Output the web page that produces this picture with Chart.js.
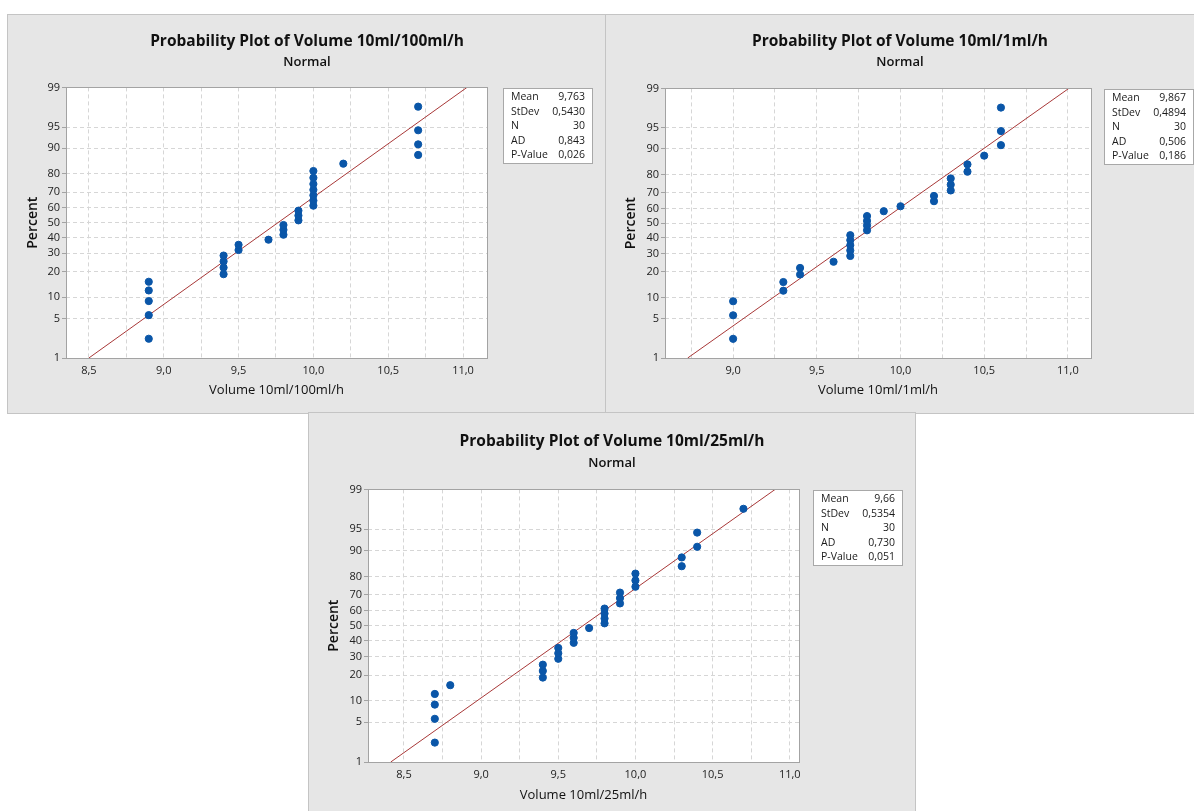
<!DOCTYPE html>
<html>
<head>
<meta charset="utf-8">
<title>Probability Plots</title>
<script src="https://cdn.jsdelivr.net/npm/chart.js@4.4.1/dist/chart.umd.min.js"></script>
<style>
    html, body { margin: 0; padding: 0; background: #fff; }
    body { width: 1194px; height: 811px; position: relative; overflow: hidden; }
    .panel { position: absolute; background: #e6e6e6; outline: 1px solid #c4c4c4; }
    .panel canvas { position: absolute; left: 0; top: 0; }
</style>
</head>
<body>
<div class="panel" style="left:8px;top:15px;width:598px;height:398px"><canvas id="chart-100" width="598" height="398"></canvas></div>
<div class="panel" style="left:606px;top:15px;width:588px;height:398px"><canvas id="chart-1" width="588" height="398"></canvas></div>
<div class="panel" style="left:309px;top:413px;width:606px;height:398px"><canvas id="chart-25" width="606" height="398"></canvas></div>
<script>
// ---- data ----
// plotting positions (percent) of the 30 ordered observations
const percents = [2.3, 5.6, 8.9, 12.2, 15.5, 18.8, 22.0, 25.3, 28.6, 31.9,
                  35.2, 38.5, 41.8, 45.1, 48.4, 51.6, 54.9, 58.2, 61.5, 64.8,
                  68.1, 71.4, 74.7, 78.0, 81.3, 84.5, 87.8, 91.1, 94.4, 97.7];

const volume100 = [8.9, 8.9, 8.9, 8.9, 8.9, 9.4, 9.4, 9.4, 9.4, 9.5,
                   9.5, 9.7, 9.8, 9.8, 9.8, 9.9, 9.9, 9.9, 10.0, 10.0,
                   10.0, 10.0, 10.0, 10.0, 10.0, 10.2, 10.7, 10.7, 10.7, 10.7];
const volume1 = [9.0, 9.0, 9.0, 9.3, 9.3, 9.4, 9.4, 9.6, 9.7, 9.7,
                 9.7, 9.7, 9.7, 9.8, 9.8, 9.8, 9.8, 9.9, 10.0, 10.2,
                 10.2, 10.3, 10.3, 10.3, 10.4, 10.4, 10.5, 10.6, 10.6, 10.6];
const volume25 = [8.7, 8.7, 8.7, 8.7, 8.8, 9.4, 9.4, 9.4, 9.5, 9.5,
                  9.5, 9.6, 9.6, 9.6, 9.7, 9.8, 9.8, 9.8, 9.8, 9.9,
                  9.9, 9.9, 10.0, 10.0, 10.0, 10.3, 10.3, 10.4, 10.4, 10.7];

// fitted normal parameters
const fit100 = { mean: 9.763, sd: 0.5430 };
const fit1 = { mean: 9.867, sd: 0.4894 };
const fit25 = { mean: 9.66, sd: 0.5354 };

const statLabels = ["Mean", "StDev", "N", "AD", "P-Value"];
const stats100 = ["9,763", "0,5430", "30", "0,843", "0,026"];
const stats1 = ["9,867", "0,4894", "30", "0,506", "0,186"];
const stats25 = ["9,66", "0,5354", "30", "0,730", "0,051"];

const percentTicks = [1, 5, 10, 20, 30, 40, 50, 60, 70, 80, 90, 95, 99];
const volumeTicks = [8.25, 8.5, 8.75, 9.0, 9.25, 9.5, 9.75, 10.0, 10.25, 10.5, 10.75, 11.0];

(function(){
    "use strict";

    const FONT = "'Open Sans', 'Noto Sans', sans-serif";

    // inverse of the standard normal cdf (Acklam), used for the probability axis
    function probit(p){
        const a = [-39.69683028665376, 220.9460984245205, -275.9285104469687, 138.3577518672690, -30.66479806614716, 2.506628277459239];
        const b = [-54.47609879822406, 161.5858368580409, -155.6989798598866, 66.80131188771972, -13.28068155288572];
        const c = [-0.007784894002430293, -0.3223964580411365, -2.400758277161838, -2.549732539343734, 4.374664141464968, 2.938163982698783];
        const d = [0.007784695709041462, 0.3224671290700398, 2.445134137142996, 3.754408661907416];
        const pl = 0.02425;
        let q, r;
        if (p < pl) {
            q = Math.sqrt(-2 * Math.log(p));
            return (((((c[0]*q+c[1])*q+c[2])*q+c[3])*q+c[4])*q+c[5]) / ((((d[0]*q+d[1])*q+d[2])*q+d[3])*q+1);
        }
        if (p > 1 - pl) {
            q = Math.sqrt(-2 * Math.log(1 - p));
            return -(((((c[0]*q+c[1])*q+c[2])*q+c[3])*q+c[4])*q+c[5]) / ((((d[0]*q+d[1])*q+d[2])*q+d[3])*q+1);
        }
        q = p - 0.5;
        r = q * q;
        return (((((a[0]*r+a[1])*r+a[2])*r+a[3])*r+a[4])*r+a[5])*q / (((((b[0]*r+b[1])*r+b[2])*r+b[3])*r+b[4])*r+1);
    }

    const zMax = probit(0.99);

    const framePlugin = {
        id: "frame",
        beforeDraw(chart){
            const a = chart.chartArea, ctx = chart.ctx;
            ctx.save();
            ctx.fillStyle = "#ffffff";
            ctx.fillRect(a.left, a.top, a.right - a.left, a.bottom - a.top);
            ctx.restore();
        },
        afterDraw(chart, args, opts){
            const a = chart.chartArea, ctx = chart.ctx;
            ctx.save();
            ctx.strokeStyle = "#a3a3a3";
            ctx.lineWidth = 1;
            ctx.strokeRect(Math.round(a.left) + 0.5, Math.round(a.top) + 0.5,
                Math.round(a.right - a.left), Math.round(a.bottom - a.top));

            // stats box
            const bx = Math.round(a.right) + opts.gap, by = Math.round(a.top) + 1;
            const bw = 89, bh = 75;
            ctx.fillStyle = "#ffffff";
            ctx.fillRect(bx, by, bw, bh);
            ctx.strokeStyle = "#a8a8a8";
            ctx.strokeRect(bx + 0.5, by + 0.5, bw, bh);
            ctx.fillStyle = "#1a1a1a";
            ctx.font = "10.5px " + FONT;
            ctx.textBaseline = "middle";
            opts.labels.forEach(function(label, i){
                const y = by + 9.5 + i * 14.5;
                ctx.textAlign = "left";
                ctx.fillText(label, bx + 8, y);
                ctx.textAlign = "right";
                ctx.fillText(opts.values[i], bx + bw - 7, y);
            });
            ctx.restore();
        }
    };

    function renderProbPlot(canvasId, name, volumes, fit, stats, layout){
        const ctx = document.getElementById(canvasId).getContext("2d");
        const points = volumes.map(function(v, i){
            return { x: v, y: probit(percents[i] / 100) };
        });
        const fitLine = [
            { x: fit.mean - zMax * fit.sd, y: -zMax },
            { x: fit.mean + zMax * fit.sd, y: zMax },
        ];

        return new Chart(ctx, {
            type: "scatter",
            data: {
                datasets: [
                    {
                        label: name,
                        data: points,
                        backgroundColor: "#0a56a8",
                        borderColor: "#0a56a8",
                        pointRadius: 3.6,
                        pointHoverRadius: 3.6,
                        order: 0,
                    },
                    {
                        label: "Fit",
                        data: fitLine,
                        showLine: true,
                        borderColor: "#a83838",
                        borderWidth: 1,
                        pointRadius: 0,
                        order: 1,
                    },
                ],
            },
            plugins: [framePlugin],
            options: {
                responsive: false,
                animation: false,
                layout: {
                    padding: 0,
                },
                plugins: {
                    legend: { display: false },
                    tooltip: { enabled: false },
                    title: {
                        display: true,
                        text: "Probability Plot of " + name,
                        color: "#111",
                        font: { family: FONT, size: 15.5, weight: "bold", lineHeight: 1.2 },
                        padding: { top: layout.titleTop, bottom: 0 },
                    },
                    subtitle: {
                        display: true,
                        text: "Normal",
                        color: "#111",
                        font: { family: FONT, size: 13, weight: "600", lineHeight: 1.2 },
                        padding: { top: layout.subTop, bottom: layout.subBottom },
                    },
                    frame: { labels: statLabels, values: stats, gap: layout.gap },
                },
                scales: {
                    x: {
                        type: "linear",
                        min: layout.xMin,
                        max: layout.xMax,
                        afterFit: function(scale){ scale.height = layout.xHeight; },
                        afterBuildTicks: function(scale){
                            scale.ticks = volumeTicks
                                .filter(function(v){ return v >= scale.min && v <= scale.max; })
                                .map(function(v){ return { value: v }; });
                        },
                        ticks: {
                            maxRotation: 0,
                            autoSkip: false,
                            padding: 6,
                            color: "#222",
                            font: { family: FONT, size: 11 },
                            callback: function(value){
                                if (Math.abs(value * 2 - Math.round(value * 2)) > 1e-6) return "";
                                return value.toFixed(1).replace(".", ",");
                            },
                        },
                        grid: {
                            color: "#d6d6d6",
                            drawTicks: false,
                        },
                        border: { display: false, dash: [4, 3] },
                        title: {
                            display: true,
                            text: name,
                            color: "#111",
                            font: { family: FONT, size: 13 },
                            padding: { top: 0, bottom: layout.xTitleBottom },
                        },
                    },
                    y: {
                        type: "linear",
                        min: -zMax,
                        max: zMax,
                        afterFit: function(scale){ scale.width = layout.yWidth; },
                        afterBuildTicks: function(scale){
                            scale.ticks = percentTicks.map(function(p){ return { value: probit(p / 100) }; });
                        },
                        ticks: {
                            autoSkip: false,
                            padding: 2,
                            color: "#222",
                            font: { family: FONT, size: 11 },
                            callback: function(value, index){ return percentTicks[index]; },
                        },
                        grid: {
                            color: "#d6d6d6",
                            tickColor: "#a3a3a3",
                            tickLength: 4,
                            tickBorderDash: [],
                        },
                        border: { display: false, dash: [4, 3] },
                        title: {
                            display: true,
                            text: "Percent",
                            color: "#111",
                            font: { family: FONT, size: 14, weight: "600" },
                            padding: { top: 17, bottom: 0 },
                        },
                    },
                    // empty strip on the right that holds the stats box
                    side: {
                        type: "linear",
                        position: "right",
                        display: true,
                        afterFit: function(scale){ scale.width = layout.right; },
                        ticks: { display: false },
                        grid: { display: false },
                        border: { display: false },
                    },
                },
            },
        });
    }

    renderProbPlot("chart-100", "Volume 10ml/100ml/h", volume100, fit100, stats100, {
        xMin: 8.347, xMax: 11.16, right: 119, yWidth: 58, xHeight: 55,
        titleTop: 17, subTop: 4, subBottom: 17.2, xTitleBottom: 15.2, gap: 16,
    });
    renderProbPlot("chart-1", "Volume 10ml/1ml/h", volume1, fit1, stats1, {
        xMin: 8.593, xMax: 11.138, right: 103, yWidth: 59, xHeight: 55,
        titleTop: 17, subTop: 4, subBottom: 18.2, xTitleBottom: 15.2, gap: 13,
    });
    renderProbPlot("chart-25", "Volume 10ml/25ml/h", volume25, fit25, stats25, {
        xMin: 8.267, xMax: 11.06, right: 116, yWidth: 59, xHeight: 49,
        titleTop: 19, subTop: 5, subBottom: 18.2, xTitleBottom: 8.2, gap: 14,
    });
})();
</script>
</body>
</html>
